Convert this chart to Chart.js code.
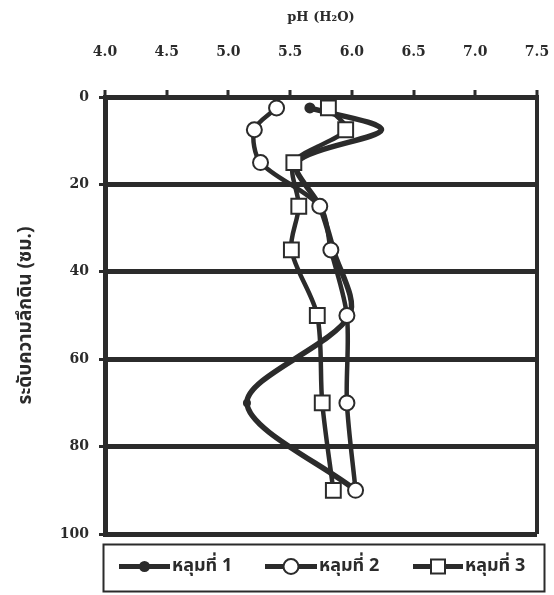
<!DOCTYPE html>
<html>
<head>
<meta charset="utf-8">
<script src="https://cdn.jsdelivr.net/npm/chart.js@4.4.1/dist/chart.umd.min.js"></script>
<style>
  html, body { margin: 0; padding: 0; background: #ffffff; }
  #wrap { width: 554px; height: 595px; position: relative; }
</style>
</head>
<body>
<div id="wrap"><canvas id="c" width="554" height="595"></canvas></div>
<script>
// Soil depth (cm) of each sample and the pH (H2O) measured in three pits
const depths = [2.5, 7.5, 15, 25, 35, 50, 70, 90];
const pit1 = [5.66, 6.24, 5.55, 5.74, 5.85, 5.98, 5.15, 6.03];
const pit2 = [5.39, 5.21, 5.26, 5.74, 5.83, 5.96, 5.96, 6.03];
const pit3 = [5.81, 5.95, 5.53, 5.57, 5.51, 5.72, 5.76, 5.85];
const seriesNames = ['หลุมที่ 1', 'หลุมที่ 2', 'หลุมที่ 3'];
const phTicks = [4.0, 4.5, 5.0, 5.5, 6.0, 6.5, 7.0, 7.5];
const depthTicks = [0, 20, 40, 60, 80, 100];

const INK = '#2b2b2b';
const numFont = { family: '"DejaVu Serif", "Liberation Serif", serif', size: 14, weight: 'bold' };
const thaiFont = '"Noto Sans Thai", "Noto Serif Thai", "Loma", "Garuda", "Noto Sans", sans-serif';

function toPoints(values) {
  return values.map((v, i) => ({ x: v, y: depths[i] }));
}

const datasets = [
  {
    label: seriesNames[0], data: toPoints(pit1), showLine: true, tension: 0.3,
    borderColor: INK, borderWidth: 5.5, backgroundColor: INK,
    pointStyle: 'circle', pointRadius: [5.5, 0, 0, 0, 0, 0, 4, 0],
    pointBorderWidth: 0, pointBackgroundColor: INK, order: 3
  },
  {
    label: seriesNames[1], data: toPoints(pit2), showLine: true, tension: 0.3,
    borderColor: INK, borderWidth: 4.5,
    pointStyle: 'circle', pointRadius: 7.5, pointBorderWidth: 2,
    pointBorderColor: INK, pointBackgroundColor: '#ffffff', order: 2
  },
  {
    label: seriesNames[2], data: toPoints(pit3), showLine: true, tension: 0.3,
    borderColor: INK, borderWidth: 4.5,
    pointStyle: 'rect', pointRadius: 10.5, pointBorderWidth: 2,
    pointBorderColor: INK, pointBackgroundColor: '#ffffff', order: 1
  }
];

// Marker drawing shared by the legend box
function drawMarker(ctx, ds, x, y) {
  ctx.save();
  ctx.lineWidth = 2;
  ctx.strokeStyle = INK;
  if (ds.pointStyle === 'rect') {
    ctx.fillStyle = '#ffffff';
    ctx.beginPath(); ctx.rect(x - 7, y - 7, 14, 14); ctx.fill(); ctx.stroke();
  } else if (ds.pointBackgroundColor === '#ffffff') {
    ctx.fillStyle = '#ffffff';
    ctx.beginPath(); ctx.arc(x, y, 7.5, 0, Math.PI * 2); ctx.fill(); ctx.stroke();
  } else {
    ctx.fillStyle = INK;
    ctx.beginPath(); ctx.arc(x, y, 5.5, 0, Math.PI * 2); ctx.fill();
  }
  ctx.restore();
}

const legendBox = {
  id: 'legendBox',
  afterDraw(chart) {
    const ctx = chart.ctx;
    const box = { x: 103, y: 544, w: 441, h: 47 };
    ctx.save();
    ctx.strokeStyle = INK;
    ctx.lineWidth = 2;
    ctx.strokeRect(box.x + 0.5, box.y + 0.5, box.w, box.h);
    const cy = box.y + box.h / 2 - 1;
    const items = [{ x0: 119, x1: 170 }, { x0: 265, x1: 317 }, { x0: 413, x1: 463 }];
    chart.data.datasets.forEach((ds, i) => {
      const it = items[i];
      ctx.strokeStyle = INK;
      ctx.lineWidth = 5;
      ctx.beginPath(); ctx.moveTo(it.x0, cy); ctx.lineTo(it.x1, cy); ctx.stroke();
      drawMarker(ctx, ds, (it.x0 + it.x1) / 2, cy);
      ctx.fillStyle = INK;
      ctx.font = 'bold 18px ' + thaiFont;
      ctx.textBaseline = 'middle';
      ctx.textAlign = 'left';
      ctx.fillText(ds.label, it.x1 + 2, cy + 1);
    });
    ctx.restore();
  }
};

new Chart(document.getElementById('c'), {
  type: 'scatter',
  data: { datasets },
  plugins: [legendBox],
  options: {
    responsive: false,
    animation: false,
    events: [],
    layout: { padding: { left: 0, top: 0, right: 17, bottom: 61 } },
    plugins: { legend: { display: false }, tooltip: { enabled: false } },
    scales: {
      x: {
        type: 'linear', position: 'top', min: 4, max: 7.5,
        afterFit(scale) { scale.height = 97; scale.paddingLeft = 0; scale.paddingRight = 0; },
        afterBuildTicks(scale) { scale.ticks = phTicks.map(v => ({ value: v })); },
        ticks: {
          callback: v => Number(v).toFixed(1),
          color: INK, font: numFont, padding: 29, maxRotation: 0
        },
        grid: {
          drawOnChartArea: true,
          color: c => (c.tick && c.tick.value === 7.5 ? INK : 'rgba(0,0,0,0)'),
          lineWidth: 4, tickColor: INK, tickLength: 7, tickWidth: 3
        },
        border: { display: true, color: INK, width: 5 },
        title: {
          display: true, text: 'pH (H₂O)', color: INK,
          font: { family: '"DejaVu Serif", serif', size: 13, weight: 'bold' },
          padding: { top: 10, bottom: 0 }
        }
      },
      y: {
        type: 'linear', reverse: true, min: 0, max: 100,
        afterFit(scale) { scale.width = 105; scale.paddingTop = 0; scale.paddingBottom = 0; },
        afterBuildTicks(scale) { scale.ticks = depthTicks.map(v => ({ value: v })); },
        ticks: { color: INK, font: numFont, padding: 10 },
        grid: { color: INK, lineWidth: 5, tickColor: INK, tickLength: 6, tickWidth: 3 },
        border: { display: true, color: INK, width: 5 },
        title: {
          display: true, text: 'ระดับความลึกดิน (ซม.)', color: INK,
          font: { family: thaiFont, size: 19, weight: 'bold' },
          padding: { top: 16, bottom: 0 }
        }
      }
    }
  }
});
</script>
</body>
</html>
